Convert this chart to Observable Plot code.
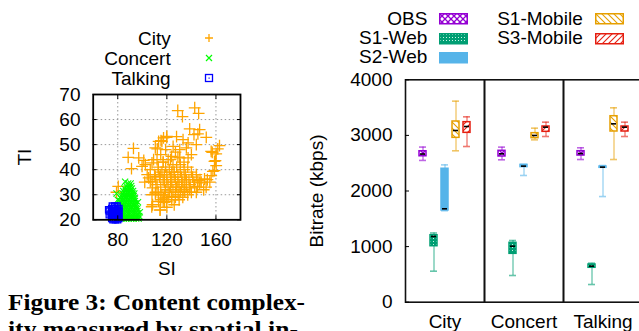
<!DOCTYPE html>
<html>
<head>
<meta charset="utf-8">
<script src="https://cdn.jsdelivr.net/npm/d3@7"></script>
<script src="https://cdn.jsdelivr.net/npm/@observablehq/plot@0.6"></script>
<style>
html, body { margin: 0; padding: 0; overflow: hidden; background: #fff; }
#root { position: relative; width: 639px; height: 331px; overflow: hidden; font-family: "Liberation Sans", Arial, sans-serif; color: #000; }
.abs { position: absolute; }
.legtxt { position: absolute; font-size: 19px; line-height: 20px; white-space: nowrap; text-align: right; }
</style>
</head>
<body>
<div id="root">
<svg width="0" height="0" style="position:absolute">
  <defs>
    <pattern id="pObs" patternUnits="userSpaceOnUse" width="6" height="6">
      <rect width="6" height="6" fill="#fff"/>
      <path d="M0,0L6,6M6,0L0,6" stroke="#9400d3" stroke-width="1.3"/>
    </pattern>
    <pattern id="pS1w" patternUnits="userSpaceOnUse" width="3" height="3">
      <rect width="3" height="3" fill="#009e73"/>
      <rect x="1" y="1" width="1" height="1" fill="#c8f5e4"/>
    </pattern>
    <pattern id="pS1m" patternUnits="userSpaceOnUse" width="6" height="6">
      <rect width="6" height="6" fill="#fff"/>
      <path d="M0,0L6,6M-1,5L1,7M5,-1L7,1" stroke="#e69f00" stroke-width="1.1"/>
    </pattern>
    <pattern id="pS3m" patternUnits="userSpaceOnUse" width="6" height="6">
      <rect width="6" height="6" fill="#fff"/>
      <path d="M0,6L6,0M-1,1L1,-1M5,7L7,5" stroke="#e51e10" stroke-width="1.1"/>
    </pattern>
  </defs>
</svg>
<div id="scatter" class="abs" style="left:0px;top:84px;"></div>
<div id="boxes" class="abs" style="left:300px;top:66px;width:360px;"></div>
<div id="legends"></div>
<svg class="abs" style="left:0;top:280px" width="639" height="51">
  <text x="8" y="30" font-family="Liberation Serif, serif" font-weight="bold" font-size="22.5" textLength="297" lengthAdjust="spacingAndGlyphs">Figure 3: Content complex-</text>
  <text x="8" y="57" font-family="Liberation Serif, serif" font-weight="bold" font-size="22.5" textLength="290" lengthAdjust="spacingAndGlyphs">ity measured by spatial in-</text>
</svg>
</div>
<script>
// ---------- Scatter data (SI, TI) ----------
const cityPoints = [
  [128.9,63.6],[142.7,64.7],[145.9,62.5],[132.7,61.2],[138.6,56.3],[146.7,56],[152.1,52.9],[157,46.9],
  [92.8,48.5],[112.2,48.3],[115.2,51.6],[119.8,52.9],[127.9,53.2],[120,53.3],[116,51.3],
  [88.5,44.9],[91.2,40.4],[97.1,44.7],[101.2,43.7],[102.5,42],[99.8,41.3],[110.6,48.7],[113.3,51.3],
  [117.3,52.7],[109.2,44],[106.5,40],[102,35],[105.2,36.7],[108.4,32.7],[107.9,30],[108.4,26],
  [114.6,24],[110.6,30.7],[80.4,33.3],[79,31],[107.9,42.7],[106.5,35.3],[110.6,37.3],[114.6,38],
  [117.3,28.7],[113.3,27.3],[114.4,23.9],[107.7,25.2],[117,27.2],
  [142.1,54],[145.3,54.3],[133.2,52],[137.3,50.7],[144,50],[125.1,49.3],[130.5,48],[135.9,48.7],
  [123.8,45.3],[130.5,44.7],[121.1,44],[137.3,44.7],[140,46],[127,47],[119,48],[115,46],[112,44],
  [145.3,35.6],[150.7,36.3],[156.1,37.6],[158.8,39.6],[160.2,41.6],[159.6,43.6],[160.2,46.3],
  [161.5,48.3],[162.9,49.6],[156.1,47.3],[158.8,43.3],[157.5,39.3],[153,36],[148,35],
  [146.7,34.7],[142.6,33.3],[138.6,32.7],[134.6,31.3],[129.2,30],[123.8,29.3],[119.7,27.3],[134.6,36],
  [104,38],[111,36],[113,40],[117,43],[118,38],
  [113,41],[116,39],[119,41],[122,40],[125,42],[128,41],[131,42],[134,40],[137,41],[140,39],
  [114,37],[117,36],[120,38],[123,37],[126,39],[129,38],[132,37],[135,38],[138,36],[141,37],[144,38],
  [112,34],[115,33],[118,35],[121,34],[124,35],[127,36],[130,34],[133,35],[136,33],[139,34],[142,35],[145,33],
  [113,31],[116,30],[119,32],[122,31],[125,32],[128,33],[131,31],[134,32],[137,30],[140,31],
  [115,28],[118,27],[121,29],[124,28],[127,29],[130,28],[133,29],[126,26],[120,25],
  [117,43],[123,44],[129,45],[134,43],[126,37],[129,35],[123,33],[131,39],[120,36],[127,31],
  [118,30],[136,36],[132,33],[124,39],[110,38],[108,35],[111,31],[147,36],[150,32],[152,33],[155,35],[144,31]
];
const concertPoints = [
  [88.5,34.5],[90.5,34.5],[86,35.2],
  [87,33.5],[89,33.5],[91,33.5],
  [85.5,32.5],[87.5,32.5],[89.5,32.5],[91.5,32.5],
  [84.5,31.5],[86.5,31.5],[88.5,31.5],[90.5,31.5],[92.5,31.5],
  [84,30.5],[86,30.5],[88,30.5],[90,30.5],[92,30.5],[93.5,30.5],[79,30.5],
  [83,29.5],[85,29.5],[87,29.5],[89,29.5],[91,29.5],[93,29.5],
  [82.5,28.5],[84.5,28.5],[86.5,28.5],[88.5,28.5],[90.5,28.5],[92.5,28.5],[94,28.5],[80,28],
  [82,27.5],[84,27.5],[86,27.5],[88,27.5],[90,27.5],[92,27.5],[94,27.5],[96.5,27],
  [81.5,26.5],[83.5,26.5],[85.5,26.5],[87.5,26.5],[89.5,26.5],[91.5,26.5],[93.5,26.5],[95,26.5],
  [81,25.5],[83,25.5],[85,25.5],[87,25.5],[89,25.5],[91,25.5],[93,25.5],[95,25.5],
  [80.5,24.5],[82.5,24.5],[84.5,24.5],[86.5,24.5],[88.5,24.5],[90.5,24.5],[92.5,24.5],[94.5,24.5],[96,24.5],
  [80,23.5],[82,23.5],[84,23.5],[86,23.5],[88,23.5],[90,23.5],[92,23.5],[94,23.5],[96,23.5],[98,23],
  [80.5,22.5],[82.5,22.5],[84.5,22.5],[86.5,22.5],[88.5,22.5],[90.5,22.5],[92.5,22.5],[94.5,22.5],[96.5,22.5],
  [80,21.5],[82,21.5],[84,21.5],[86,21.5],[88,21.5],[90,21.5],[92,21.5],[94,21.5],[96,21.5],[97.5,21.5],
  [81,20.5],[83,20.5],[85,20.5],[87,20.5],[89,20.5],[91,20.5],[93,20.5],[95,20.5],[97,20.5]
];
const talkingPoints = [
  [75.5,25.5],[77.5,25.5],[79.5,25.5],
  [75,24.5],[76.5,24.5],[78,24.5],[79.5,24.5],[81,24.5],
  [75,23.5],[76.5,23.5],[78,23.5],[79.5,23.5],[81,23.5],
  [74.5,22.5],[76,22.5],[77.5,22.5],[79,22.5],[80.5,22.5],
  [75,21.5],[76.5,21.5],[78,21.5],[79.5,21.5],[81,21.5],
  [75,20.5],[76.5,20.5],[78,20.5],[79.5,20.5],[81,20.5],
  [76,20],[78,20],[80,20],
  [73,23.5],[73,22],[72.5,24]
];
const siTicks = [80, 120, 160];
const tiTicks = [20, 30, 40, 50, 60, 70];

// ---------- Box plot data ----------
const categories = ["City", "Concert", "Talking"];
const seriesNames = ["OBS", "S1-Web", "S2-Web", "S1-Mobile", "S3-Mobile"];
const seriesColors = ["#9400d3", "#009e73", "#56b4e9", "#e69f00", "#e51e10"];
const seriesFills = ["url(#pObs)", "url(#pS1w)", "#56b4e9", "url(#pS1m)", "url(#pS3m)"];
// rows: categories; columns: series
const minVals = [[2550, 558, 1645, 2723, 2800], [2561, 480, 2279, 2920, 2980], [2566, 318, 1900, 2566, 2980]];
const q1Vals  = [[2625, 1007, 1650, 2956, 3046], [2621, 870, 2430, 2950, 3064], [2638, 619, 2417, 3070, 3070]];
const medVals = [[2665, 1182, 1680, 3088, 3160], [2669, 1007, 2447, 2999, 3148], [2674, 648, 2429, 3208, 3148]];
const q3Vals  = [[2715, 1205, 2400, 3250, 3238], [2723, 1068, 2470, 3040, 3160], [2716, 678, 2440, 3345, 3160]];
const maxVals = [[2790, 1245, 2470, 3616, 3334], [2789, 1110, 2477, 3130, 3238], [2777, 702, 2458, 3496, 3238]];
const bitrateTicks = [0, 1000, 2000, 3000, 4000];

const FONT = "'Liberation Sans', Arial, sans-serif";

// ---------- Scatter ----------
const scatter = Plot.plot({
  width: 260, height: 196,
  marginLeft: 92.7, marginRight: 20, marginTop: 10, marginBottom: 60.7,
  x: {domain: [60, 180]},
  y: {domain: [20, 70]},
  style: {fontFamily: FONT, fontSize: "19px", background: "transparent", maxWidth: "none", overflow: "visible"},
  marks: [
    Plot.gridX(siTicks, {stroke: "#999", strokeOpacity: 1, strokeDasharray: "1.5,2.5"}),
    Plot.gridY([30, 40, 50, 60], {stroke: "#999", strokeOpacity: 1, strokeDasharray: "1.5,2.5"}),
    Plot.dot(cityPoints, {x: d => d[0], y: d => d[1], symbol: "plus", r: 3.9, stroke: "#ffa500", strokeWidth: 1.3}),
    Plot.dot(concertPoints, {x: d => d[0], y: d => d[1], symbol: "times", r: 2.9, stroke: "#00ff00", strokeWidth: 1.1}),
    Plot.dot(talkingPoints, {x: d => d[0], y: d => d[1], symbol: "square", r: 3.4, stroke: "#0000ff", fill: "none", strokeWidth: 1.3}),
    Plot.dot(talkingPoints, {x: d => d[0], y: d => d[1], r: 0.8, fill: "#0000ff"}),
    Plot.axisY(tiTicks, {anchor: "left", tickSize: 0, tickPadding: 12.7, fontSize: 19, label: null}),
    Plot.axisY(tiTicks, {anchor: "left", tickSize: -4, tickFormat: () => "", label: null}),
    Plot.axisY(tiTicks, {anchor: "right", tickSize: -4, tickFormat: () => "", label: null}),
    Plot.axisX(siTicks, {anchor: "bottom", tickSize: 0, tickPadding: 12.4, fontSize: 19, label: null}),
    Plot.axisX(siTicks, {anchor: "bottom", tickSize: -4, tickFormat: () => "", label: null}),
    Plot.axisX(siTicks, {anchor: "top", tickSize: -4, tickFormat: () => "", label: null}),
    Plot.text(["SI"], {frameAnchor: "bottom", dy: 49.5, textAnchor: "middle", lineAnchor: "middle", fontSize: 19}),
    Plot.text(["TI"], {frameAnchor: "left", dx: -68.7, rotate: -90, textAnchor: "middle", lineAnchor: "middle", fontSize: 19}),
    Plot.frame({stroke: "#000", strokeWidth: 1.8})
  ]
});
document.getElementById("scatter").appendChild(scatter);

// ---------- Box plot ----------
const rows = [];
categories.forEach((cat, ci) => {
  seriesNames.forEach((s, si) => {
    rows.push({cat, series: s, min: minVals[ci][si], q1: q1Vals[ci][si], med: medVals[ci][si], q3: q3Vals[ci][si], max: maxVals[ci][si]});
  });
});
const boxMarks = [];
seriesNames.forEach((s, si) => {
  const data = rows.filter(r => r.series === s);
  const c = seriesColors[si];
  boxMarks.push(
    Plot.ruleX(data, {fx: "cat", x: "series", y1: "min", y2: "q1", stroke: c, strokeOpacity: 0.6, strokeWidth: 1.3}),
    Plot.ruleX(data, {fx: "cat", x: "series", y1: "q3", y2: "max", stroke: c, strokeOpacity: 0.6, strokeWidth: 1.3}),
    Plot.tickY(data, {fx: "cat", x: "series", y: "min", stroke: c, strokeOpacity: 0.6, strokeWidth: 1.6}),
    Plot.tickY(data, {fx: "cat", x: "series", y: "max", stroke: c, strokeOpacity: 0.6, strokeWidth: 1.6}),
    Plot.barY(data, {fx: "cat", x: "series", y1: "q1", y2: "q3", fill: seriesFills[si], stroke: c, strokeWidth: 1.5}),
    Plot.tickY(data, {fx: "cat", x: "series", y: "med", stroke: "#000", strokeWidth: 1.6, inset: 1})
  );
});
const boxes = Plot.plot({
  width: 360, height: 265,
  marginLeft: 105, marginRight: 17.7, marginTop: 13.3, marginBottom: 29.3,
  fx: {domain: categories, padding: 0, label: null},
  x: {domain: seriesNames, paddingInner: 0.32, paddingOuter: 1.23, axis: null},
  y: {domain: [0, 4000]},
  style: {fontFamily: FONT, fontSize: "19px", background: "transparent", maxWidth: "none", overflow: "visible"},
  marks: [
    Plot.frame({stroke: "#111", strokeWidth: 1.6}),
    Plot.axisY(bitrateTicks, {anchor: "left", tickSize: 0, tickPadding: 13, tickFormat: d => String(d), fontSize: 19, label: null}),
    Plot.axisY(bitrateTicks, {anchor: "left", tickSize: -4, tickFormat: () => "", label: null}),
    Plot.axisY(bitrateTicks, {anchor: "right", tickSize: -4, tickFormat: () => "", stroke: "#888", label: null}),
    Plot.axisFx({anchor: "bottom", tickSize: 0, tickPadding: 12, fontSize: 19, label: null}),
    ...boxMarks,
    Plot.text(["Bitrate (kbps)"], {fx: ["City"], frameAnchor: "left", dx: -88.3, rotate: -90, textAnchor: "middle", lineAnchor: "middle", fontSize: 19})
  ]
});
document.getElementById("boxes").appendChild(boxes);

// ---------- Legends ----------
const leg = document.getElementById("legends");
function addText(txt, rightX, centerY) {
  const d = document.createElement("div");
  d.className = "legtxt";
  d.style.right = (639 - rightX) + "px";
  d.style.top = (centerY - 10) + "px";
  d.textContent = txt;
  leg.appendChild(d);
}
function addSvg(x, y, w, h, inner) {
  const ns = "http://www.w3.org/2000/svg";
  const s = document.createElementNS(ns, "svg");
  s.setAttribute("width", w); s.setAttribute("height", h);
  s.setAttribute("class", "abs");
  s.style.left = x + "px"; s.style.top = y + "px";
  s.innerHTML = inner;
  leg.appendChild(s);
}
// scatter legend
const scatterLegend = [["City", "#ffa500", "plus"], ["Concert", "#00ff00", "times"], ["Talking", "#0000ff", "square"]];
scatterLegend.forEach(([name, color, sym], i) => {
  const cy = 39.2 + 20 * i;
  addText(name, 170.7, cy);
  let inner;
  if (sym === "plus") inner = `<path d="M5,1V9M1,5H9" stroke="${color}" stroke-width="1.3"/>`;
  else if (sym === "times") inner = `<path d="M2,2L8,8M8,2L2,8" stroke="${color}" stroke-width="1.2"/>`;
  else inner = `<rect x="1.5" y="1.5" width="7" height="7" fill="none" stroke="${color}" stroke-width="1.3"/><rect x="4.5" y="4.5" width="1.2" height="1.2" fill="${color}"/>`;
  addSvg(204.3, cy - 6, 10, 10, inner);
});
// box legend
const legPos = [[427.3, 439.3, 18.7], [427.3, 439.3, 38], [427.3, 439.3, 57.2], [582.7, 595, 18.7], [582.7, 595, 38]];
seriesNames.forEach((s, si) => {
  const [tx, sx, cy] = legPos[si];
  addText(s, tx, cy);
  addSvg(sx, cy - 5.5, 29, 12, `<rect x="0.75" y="0.75" width="27.5" height="10" fill="${seriesFills[si]}" stroke="${seriesColors[si]}" stroke-width="1.5"/>`);
});
</script>
</body>
</html>
